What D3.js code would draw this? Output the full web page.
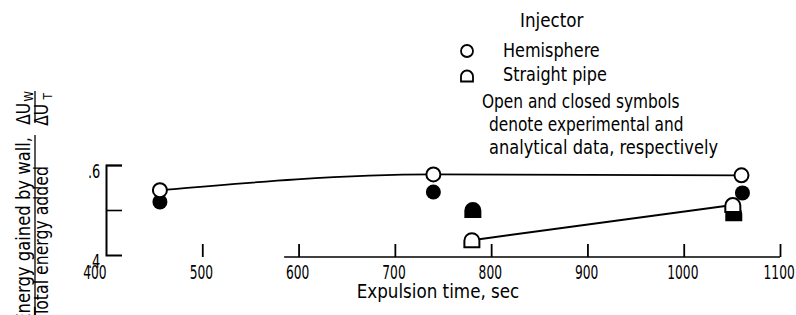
<!DOCTYPE html>
<html><head><meta charset="utf-8">
<script src="https://cdn.jsdelivr.net/npm/d3@7"></script>
<style>
body{margin:0;background:#fff;}
svg{display:block;}
text{font-family:"DejaVu Sans Condensed","Liberation Sans Narrow",sans-serif;fill:#000;}
</style></head>
<body>
<svg id="c" width="796" height="315"></svg>
<script>
// ---- data ----
const xTicks = [400, 500, 600, 700, 800, 900, 1000, 1100];
const yTicks = [0.4, 0.5, 0.6];
const yTickLabels = [".4", "", ".6"];
const hemiExpTime = [456, 740, 1060];
const hemiExpVal = [0.544, 0.579, 0.577];
const hemiAnaTime = [456, 740, 1061];
const hemiAnaVal = [0.518, 0.540, 0.538];
const pipeExpTime = [780, 1051];
const pipeExpVal = [0.433, 0.511];
const pipeAnaTime = [781, 1052];
const pipeAnaVal = [0.500, 0.493];
const axisLineStart = 585;
const legendItems = ["Hemisphere", "Straight pipe"];
const noteLines = ["Open and closed symbols", "denote experimental and", "analytical data, respectively"];

const FONT = '"DejaVu Sans Condensed","Liberation Sans Narrow",sans-serif';
const svg = d3.select("#c");
const x = d3.scaleLinear().domain([400, 1100]).range([106, 780]);
const y = d3.scaleLinear().domain([0.4, 0.6]).range([255, 165]);

// y axis
const yAxis = d3.axisLeft(y).tickValues(yTicks).tickSize(-16).tickPadding(0)
  .tickFormat((d, i) => yTickLabels[i]);
const gy = svg.append("g").attr("transform", "translate(106,0)").call(yAxis);
gy.select(".domain").attr("stroke", "#000").attr("stroke-width", 2);
gy.selectAll(".tick line").attr("stroke", "#000").attr("stroke-width", 1.6)
  .attr("display", d => d === 0.4 ? "none" : null);
gy.selectAll(".tick text").attr("font-size", 20).attr("dy", "0.6em")
  .attr("x", -8).attr("transform", "scale(0.72,1)")
  .style("font-family", FONT);

// x axis
const xAxis = d3.axisBottom(x).tickValues(xTicks).tickSize(-13).tickPadding(21)
  .tickFormat(d3.format("d"));
const gx = svg.append("g").attr("transform", "translate(0,257)").call(xAxis);
gx.select(".domain").remove();
gx.selectAll(".tick line").attr("stroke", "#000").attr("stroke-width", 1.8)
  .attr("display", d => d === 400 ? "none" : null);
gx.selectAll(".tick text").attr("font-size", 20).attr("dy", "0.05em")
  .attr("x", d => d === 400 ? -17 : -2).attr("transform", "scale(0.68,1)")
  .style("font-family", FONT);
gx.append("line").attr("x1", x(axisLineStart)).attr("x2", x(1100))
  .attr("y1", 0).attr("y2", 0).attr("stroke", "#000").attr("stroke-width", 1.5);

svg.append("text").attr("transform", "translate(438,298) scale(0.98,1)").attr("text-anchor", "middle")
  .attr("font-size", 19).text("Expulsion time, sec");

// y title
const yt = svg.append("g");
function rot(txt, bx, topY, size, sx) {
  return yt.append("text").attr("transform", `translate(${bx},${topY}) rotate(-90) scale(${sx},1)`)
    .attr("text-anchor", "end").attr("font-size", size).text(txt);
}
rot("Energy gained by wall,", 30, 137, 19, 0.96);
rot("Total energy added", 48, 166, 19, 0.92);
yt.append("line").attr("x1", 35).attr("x2", 35).attr("y1", 135).attr("y2", 315)
  .attr("stroke", "#000").attr("stroke-width", 1.3);
rot("ΔU", 30, 103, 19, 0.9);
rot("W", 33, 91, 13, 0.9);
rot("ΔU", 48, 104, 19, 0.9);
rot("T", 52, 93, 13, 0.9);
yt.append("line").attr("x1", 35).attr("x2", 35).attr("y1", 91).attr("y2", 123)
  .attr("stroke", "#000").attr("stroke-width", 1.3);

// curves
const hemiPts = hemiExpTime.map((t, i) => [t, hemiExpVal[i]]);
const pipePts = pipeExpTime.map((t, i) => [t, pipeExpVal[i]]);
svg.append("path").attr("d", d3.line().x(d => x(d[0])).y(d => y(d[1])).curve(d3.curveMonotoneX)(hemiPts))
  .attr("fill", "none").attr("stroke", "#000").attr("stroke-width", 1.8);
svg.append("path").attr("d", d3.line().x(d => x(d[0])).y(d => y(d[1]))(pipePts))
  .attr("fill", "none").attr("stroke", "#000").attr("stroke-width", 2);

// symbols
function dome(w, h) {
  const r = w / 2, s = h - r;
  return `M${-r},${h/2} L${-r},${h/2 - s} A${r},${r} 0 0 1 ${r},${h/2 - s} L${r},${h/2} Z`;
}
function drawCircles(ts, vs, filled) {
  svg.append("g").selectAll("circle").data(ts).join("circle")
    .attr("cx", d => x(d)).attr("cy", (d, i) => y(vs[i])).attr("r", filled ? 7.5 : 7)
    .attr("fill", filled ? "#000" : "#fff").attr("stroke", "#000").attr("stroke-width", filled ? 0 : 2);
}
function drawDomes(ts, vs, filled) {
  svg.append("g").selectAll("path").data(ts).join("path")
    .attr("transform", (d, i) => `translate(${x(d)},${y(vs[i])})`)
    .attr("d", dome(15, 14))
    .attr("fill", filled ? "#000" : "#fff").attr("stroke", "#000").attr("stroke-width", 2);
}
drawCircles(hemiAnaTime, hemiAnaVal, true);
drawCircles(hemiExpTime, hemiExpVal, false);
drawDomes(pipeAnaTime, pipeAnaVal, true);
drawDomes(pipeExpTime, pipeExpVal, false);

// legend
svg.append("text").attr("transform", "translate(520,27) scale(0.98,1)").attr("font-size", 19).text("Injector");
svg.append("circle").attr("cx", 467).attr("cy", 51).attr("r", 6)
  .attr("fill", "#fff").attr("stroke", "#000").attr("stroke-width", 1.8);
svg.append("path").attr("transform", "translate(467,76)").attr("d", dome(12, 11))
  .attr("fill", "#fff").attr("stroke", "#000").attr("stroke-width", 1.8);
svg.selectAll(".leg").data(legendItems).join("text").attr("class", "leg")
  .attr("transform", (d, i) => `translate(503,${57 + i * 24}) scale(0.94,1)`)
  .attr("font-size", 19).text(d => d);
svg.selectAll(".note").data(noteLines).join("text").attr("class", "note")
  .attr("transform", (d, i) => `translate(${i === 0 ? 482 : 489},${108 + i * 23}) scale(${i === 2 ? 0.95 : 0.9},1)`)
  .attr("font-size", 19).text(d => d);
</script>
</body></html>
